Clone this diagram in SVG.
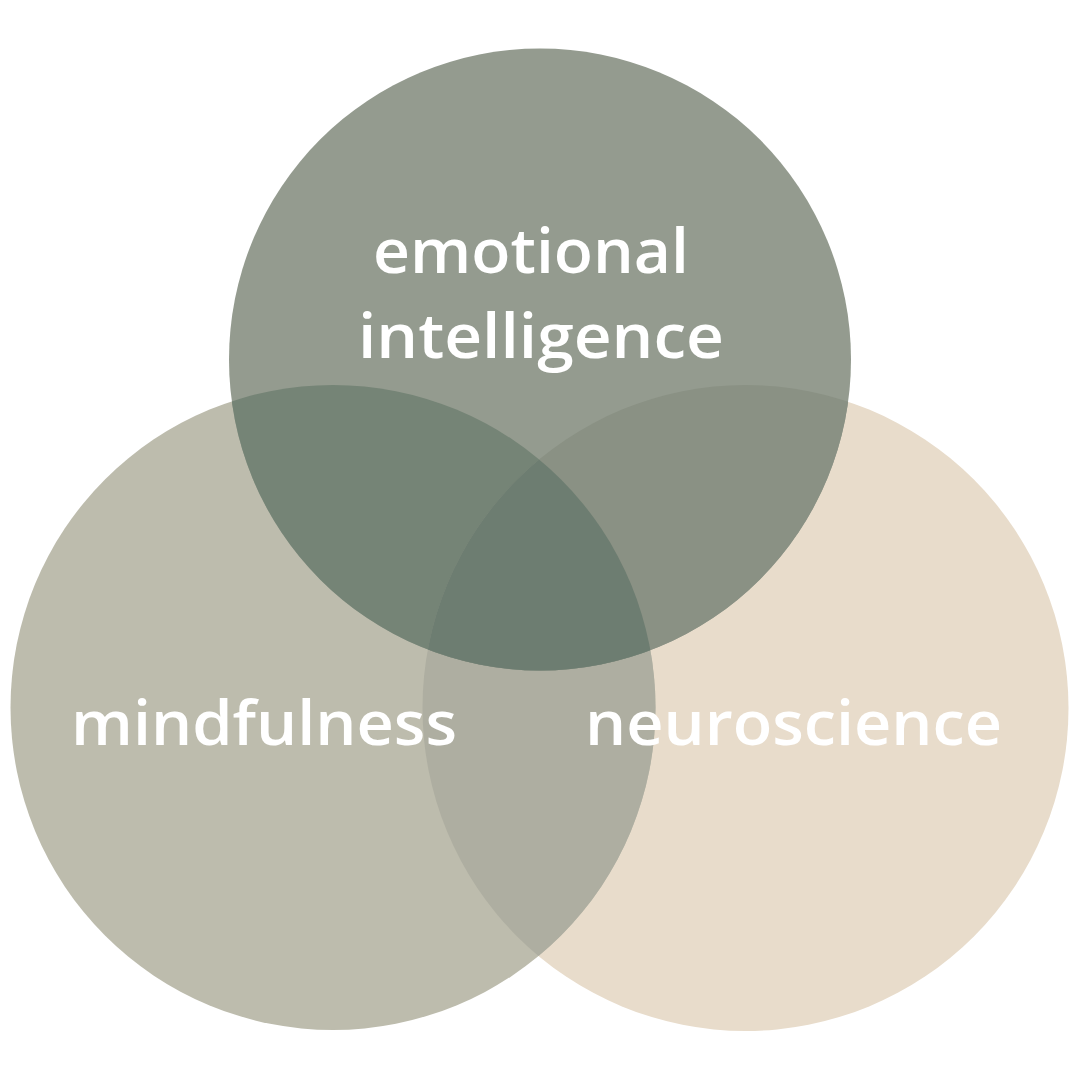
<svg xmlns="http://www.w3.org/2000/svg" width="1080" height="1080" viewBox="0 0 1080 1080">
  <style>
    .label { font-family: "Open Sans", "Liberation Sans", sans-serif; font-weight: 600; font-size: 61px; fill: #ffffff; }
  </style>
  <defs>
    <clipPath id="clipL"><circle cx="333" cy="707.5" r="322.5"/></clipPath>
    <clipPath id="clipR"><circle cx="745.5" cy="708" r="323"/></clipPath>
    <clipPath id="clipT"><circle cx="540" cy="359.5" r="311"/></clipPath>
  </defs>
  <rect width="1080" height="1080" fill="#ffffff"/>
  <g id="node-neuroscience">
    <circle cx="745.5" cy="708" r="323" fill="#e8dccb"/>
  </g>
  <g id="node-mindfulness">
    <circle cx="333" cy="707.5" r="322.5" fill="#bdbcad"/>
  </g>
  <g id="node-emotional-intelligence">
    <circle cx="540" cy="359.5" r="311" fill="#949b8f"/>
  </g>
  <g id="overlaps">
    <circle cx="745.5" cy="708" r="323" fill="#aeaea1" clip-path="url(#clipL)"/>
    <circle cx="333" cy="707.5" r="322.5" fill="#758476" clip-path="url(#clipT)"/>
    <circle cx="745.5" cy="708" r="323" fill="#8a9184" clip-path="url(#clipT)"/>
    <g clip-path="url(#clipL)">
      <circle cx="745.5" cy="708" r="323" fill="#6d7d71" clip-path="url(#clipT)"/>
    </g>
  </g>
  <g id="labels">
    <text class="label" x="373" y="273" textLength="316" lengthAdjust="spacingAndGlyphs">emotional</text>
    <text class="label" x="358" y="358" textLength="366" lengthAdjust="spacingAndGlyphs">intelligence</text>
    <text class="label" x="71" y="745" textLength="386" lengthAdjust="spacingAndGlyphs">mindfulness</text>
    <text class="label" x="585" y="745" textLength="417" lengthAdjust="spacingAndGlyphs">neuroscience</text>
  </g>
</svg>
